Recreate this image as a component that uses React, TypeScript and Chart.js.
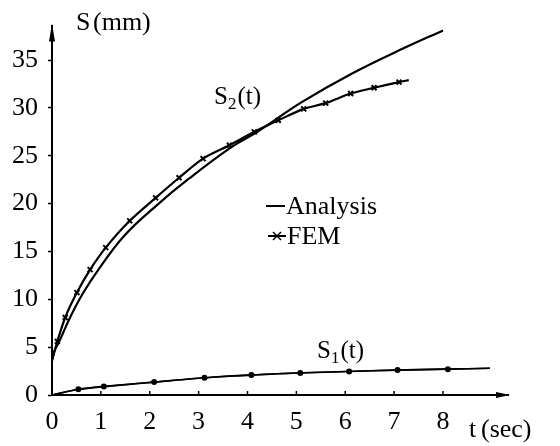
import React, { useEffect, useRef } from "react";
import { Chart, registerables } from "chart.js";

Chart.register(...registerables);

// ---- data ----
const analysisS2T = [0, 0.05, 0.15, 0.36, 0.63, 0.95, 1.47, 2.16, 2.8, 3.67, 4.2, 5.11, 6.14, 7.18, 8.0];
const analysisS2S = [3.6, 4.6, 5.6, 8.0, 10.6, 13.1, 16.6, 19.9, 22.6, 25.9, 27.5, 30.6, 33.6, 36.2, 38.1];

const femS2T = [0, 0.11, 0.27, 0.51, 0.78, 1.1, 1.59, 2.12, 2.6, 3.09, 3.63, 4.14, 4.63, 5.15, 5.6, 6.11, 6.59, 7.1, 7.3];
const femS2S = [3.6, 5.6, 8.1, 10.7, 13.1, 15.4, 18.2, 20.6, 22.7, 24.7, 26.1, 27.5, 28.7, 29.9, 30.5, 31.5, 32.1, 32.7, 32.9];

const analysisS1T = [0, 0.5, 1, 2, 3, 4, 5, 6, 7, 8, 8.96];
const analysisS1S = [0, 0.55, 0.85, 1.3, 1.75, 2.05, 2.3, 2.45, 2.6, 2.7, 2.8];

const femS1T = [0, 0.54, 1.06, 2.09, 3.12, 4.08, 5.08, 6.08, 7.07, 8.1, 8.96];
const femS1S = [0, 0.6, 0.9, 1.35, 1.8, 2.1, 2.3, 2.45, 2.6, 2.7, 2.8];

const xTicks = [0, 1, 2, 3, 4, 5, 6, 7, 8];
const yTicks = [0, 5, 10, 15, 20, 25, 30, 35];

const X_MAX = 9.33;
const Y_MAX = 38.6;

const FONT = "'Liberation Serif', 'Times New Roman', serif";

function pts(t: number[], s: number[]) {
  return t.map((v, i) => ({ x: v, y: s[i] }));
}

function drawSubLabel(ctx: CanvasRenderingContext2D, x: number, y: number, main: string, sub: string, rest: string) {
  ctx.font = `25px ${FONT}`;
  ctx.fillText(main, x, y);
  const w = ctx.measureText(main).width;
  ctx.font = `17px ${FONT}`;
  ctx.fillText(sub, x + w, y + 5);
  const w2 = ctx.measureText(sub).width;
  ctx.font = `25px ${FONT}`;
  ctx.fillText(rest, x + w + w2 + 1, y);
}

const decorPlugin = {
  id: "decor",
  afterDraw(chart: any) {
    const ctx: CanvasRenderingContext2D = chart.ctx;
    const area = chart.chartArea;
    const xs = chart.scales.x;
    ctx.save();
    ctx.fillStyle = "#000";
    ctx.strokeStyle = "#000";
    // x tick marks pointing up
    ctx.lineWidth = 1.5;
    xTicks.forEach((v) => {
      if (v === 0) return;
      const px = xs.getPixelForValue(v);
      ctx.beginPath();
      ctx.moveTo(px, area.bottom);
      ctx.lineTo(px, area.bottom - 4);
      ctx.stroke();
    });
    // arrows
    ctx.beginPath();
    ctx.moveTo(area.left, area.top - 2);
    ctx.lineTo(area.left - 3, area.top + 16);
    ctx.lineTo(area.left + 3, area.top + 16);
    ctx.closePath();
    ctx.fill();
    ctx.beginPath();
    ctx.moveTo(area.right + 2, area.bottom);
    ctx.lineTo(area.right - 12, area.bottom - 3);
    ctx.lineTo(area.right - 12, area.bottom + 3);
    ctx.closePath();
    ctx.fill();

    // axis titles
    ctx.textBaseline = "alphabetic";
    ctx.textAlign = "left";
    ctx.font = `26px ${FONT}`;
    ctx.fillText("S", 76, 30);
    ctx.fillText("(mm)", 93, 30);
    ctx.fillText("t", 469, 437);
    ctx.fillText("(sec)", 481, 437);

    // curve labels
    drawSubLabel(ctx, 214, 104, "S", "2", "(t)");
    drawSubLabel(ctx, 317, 358, "S", "1", "(t)");

    // legend
    ctx.lineWidth = 2;
    ctx.beginPath();
    ctx.moveTo(266, 206);
    ctx.lineTo(285, 206);
    ctx.stroke();
    ctx.font = `26px ${FONT}`;
    ctx.fillText("Analysis", 286, 214);

    ctx.beginPath();
    ctx.moveTo(268, 236);
    ctx.lineTo(286, 236);
    ctx.stroke();
    ctx.lineWidth = 1.5;
    ctx.beginPath();
    ctx.moveTo(273, 232);
    ctx.lineTo(281, 240);
    ctx.moveTo(281, 232);
    ctx.lineTo(273, 240);
    ctx.stroke();
    ctx.fillText("FEM", 287, 244);
    ctx.restore();
  },
};

export default function App() {
  const ref = useRef<HTMLCanvasElement | null>(null);

  useEffect(() => {
    if (!ref.current) return;
    const chart = new Chart(ref.current, {
      type: "line",
      data: {
        datasets: [
          {
            label: "Analysis S2",
            data: pts(analysisS2T, analysisS2S),
            borderColor: "#000",
            borderWidth: 2.2,
            pointRadius: 0,
            tension: 0.4,
            fill: false,
          },
          {
            label: "FEM S2",
            data: pts(femS2T, femS2S),
            borderColor: "#000",
            backgroundColor: "#000",
            borderWidth: 2.2,
            pointStyle: "crossRot",
            pointRadius: femS2T.map((_, i) => (i === 0 || i === femS2T.length - 1 ? 0 : 3.5)),
            pointBorderWidth: 2,
            tension: 0.3,
            fill: false,
          },
          {
            label: "Analysis S1",
            data: pts(analysisS1T, analysisS1S),
            borderColor: "#000",
            borderWidth: 1.6,
            pointRadius: 0,
            tension: 0.4,
            fill: false,
          },
          {
            label: "FEM S1",
            data: pts(femS1T, femS1S),
            borderColor: "#000",
            backgroundColor: "#000",
            borderWidth: 1.6,
            pointStyle: "circle",
            pointRadius: femS1T.map((_, i) => (i === 0 || i === femS1T.length - 1 ? 0 : 2.2)),
            tension: 0.3,
            fill: false,
          },
        ],
      },
      options: {
        animation: false,
        responsive: false,
        devicePixelRatio: 1,
        layout: { padding: { left: 0, top: 13, right: 52, bottom: 0 } },
        plugins: { legend: { display: false }, tooltip: { enabled: false } },
        scales: {
          x: {
            type: "linear",
            min: 0,
            max: X_MAX,
            afterFit: (s: any) => {
              s.height = 51;
            },
            afterBuildTicks: (s: any) => {
              s.ticks = xTicks.map((v) => ({ value: v }));
            },
            ticks: {
              color: "#000",
              font: { family: FONT, size: 26 },
              padding: 12,
              callback: (v: any) => String(v),
            },
            grid: { display: true, drawOnChartArea: false, drawTicks: false, color: "#000" },
            border: { display: true, color: "#000", width: 2 },
          },
          y: {
            type: "linear",
            min: 0,
            max: Y_MAX,
            afterFit: (s: any) => {
              s.width = 52;
            },
            afterBuildTicks: (s: any) => {
              s.ticks = yTicks.map((v) => ({ value: v }));
            },
            ticks: {
              color: "#000",
              font: { family: FONT, size: 26 },
              padding: 10,
              callback: (v: any) => String(v),
            },
            grid: { display: true, drawOnChartArea: false, drawTicks: true, tickLength: 4, color: "#000", tickWidth: 1.5 },
            border: { display: true, color: "#000", width: 2 },
          },
        },
      },
      plugins: [decorPlugin],
    });
    return () => chart.destroy();
  }, []);

  return (
    <div style={{ position: "absolute", left: 0, top: 0, width: 560, height: 446, background: "#fff" }}>
      <canvas ref={ref} width={560} height={446} style={{ width: 560, height: 446, display: "block" }} />
    </div>
  );
}
